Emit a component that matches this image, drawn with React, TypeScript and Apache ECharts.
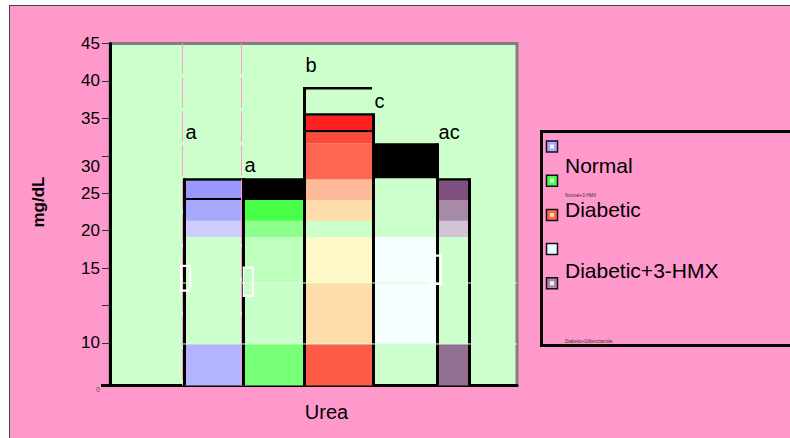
import React, { useEffect, useRef } from 'react';
import * as echarts from 'echarts';

// ---------- data ----------
const GROUPS = ['Normal', 'Normal+3-HMX', 'Diabetic', 'Diabetic+Glibenclamide', 'Diabetic+3-HMX'];
const X_AXIS_LABEL = 'Urea';
const Y_AXIS_NAME = 'mg/dL';

// y tick positions and the labels printed at them in the source figure
const Y_TICK_VALUES = [5, 10, 15, 20, 25, 30, 35, 40, 45];
const Y_TICK_LABELS = ['10', '', '15', '20', '25', '30', '35', '40', '45'];
const Y_ZERO_LABEL = '0';
const Y_MIN = -0.7;
const Y_MAX = 45;

// stacked band segments of each bar: [low, high]
const NORMAL_SEGMENTS = [[-0.7, 4.85], [19.15, 21.3], [21.3, 24.1], [24.1, 24.35], [24.35, 26.65], [26.65, 27.0]];
const NORMAL_HMX_SEGMENTS = [[-0.7, 4.85], [4.85, 13.0], [13.0, 19.15], [19.15, 21.3], [21.3, 24.1], [24.1, 27.0]];
const DIABETIC_SEGMENTS = [[-0.7, 4.85], [4.85, 13.0], [13.0, 19.15], [21.3, 24.1], [24.1, 26.85], [26.85, 31.67], [31.67, 33.14], [33.14, 33.44], [33.44, 35.35], [35.35, 35.67]];
const DIABETIC_GLIB_SEGMENTS = [[4.85, 19.15], [27.0, 31.67]];
const DIABETIC_HMX_SEGMENTS = [[-0.7, 4.85], [19.15, 21.3], [21.3, 24.1], [24.1, 26.65], [26.65, 27.0]];

const DIABETIC_BRACKET = 39.19;
const SIG_LETTERS = ['a', 'a', 'b', 'c', 'ac'];
const SIG_LEVELS = [33.16, 28.75, 42.1, 37.3, 33.16];

const ERROR_GROUPS = [0, 1, 4];
const ERROR_LOW = [11.98, 11.27, 12.87];
const ERROR_HIGH = [15.28, 15.05, 16.65];

const BAND_LINES = [4.85, 13.0];

// ---------- layout & style ----------
const SEGMENTS = [NORMAL_SEGMENTS, NORMAL_HMX_SEGMENTS, DIABETIC_SEGMENTS, DIABETIC_GLIB_SEGMENTS, DIABETIC_HMX_SEGMENTS];
const SEGMENT_COLORS = [
  ['#B3B3FF', '#CCCCFF', '#A8A8FF', '#000000', '#9999FF', '#000000'],
  ['#77FF77', '#C8FFC8', '#BEFFBE', '#8CFF8C', '#47FF47', '#000000'],
  ['#FF5A44', '#FFDDAA', '#FFF8C8', '#FFDDAA', '#FFBB99', '#FF6651', '#FF4A3A', '#000000', '#FF1F1F', '#000000'],
  ['#F5FFFF', '#000000'],
  ['#926E91', '#D2C4D6', '#A68AA6', '#7F507F', '#000000'],
];
// bar edges, in percent of the plot width
const EDGES = [18.3, 32.8, 47.79, 64.74, 80.47, 88.33];
const BEAM_DX = [1.2, 4.8, -1.2];
const PINK_EDGES = [0, 1];
const LEGEND_SWATCH = [
  ['#A8A8FF', '#F4F4FF'],
  ['#47FF47', '#CCFFCC'],
  ['#FF6651', '#FFE2A8'],
  ['#E6FFFF', '#FFFFFF'],
  ['#A68AA6', '#F2F2F2'],
];
const FONT = '"Liberation Sans", Arial, Helvetica, sans-serif';

const barTop = (g: number) => Math.max(...SEGMENTS[g].map((s) => s[1]));
const edgeTop = (e: number) => {
  const tops: number[] = [];
  if (e - 1 >= 0) tops.push(barTop(e - 1));
  if (e < GROUPS.length) tops.push(barTop(e));
  if (e === 2) tops.push(DIABETIC_BRACKET);
  return Math.max(...tops);
};

function buildOption(): any {
  const segmentSeries = SEGMENTS.map((segs, g) => ({
    type: 'custom',
    name: GROUPS[g],
    z: 2,
    data: segs.map(([lo, hi]) => [g, lo, hi]),
    renderItem: (params: any, api: any) => {
      const gi = api.value(0);
      const lo = api.value(1);
      const hi = api.value(2);
      const a = api.coord([EDGES[gi], hi]);
      const b = api.coord([EDGES[gi + 1], lo]);
      return {
        type: 'rect',
        shape: { x: a[0], y: a[1], width: b[0] - a[0], height: b[1] - a[1] },
        style: { fill: SEGMENT_COLORS[gi][params.dataIndex] },
      };
    },
  }));

  const borderSeries = {
    type: 'custom',
    z: 3,
    silent: true,
    data: EDGES.map((_, e) => [e, edgeTop(e)]),
    renderItem: (_p: any, api: any) => {
      const e = api.value(0);
      const top = api.coord([EDGES[e], api.value(1)]);
      const bot = api.coord([EDGES[e], Y_MIN]);
      const children: any[] = [
        { type: 'rect', shape: { x: top[0] - 1.5, y: top[1], width: 3, height: bot[1] - top[1] }, style: { fill: '#000' } },
      ];
      if (e === 2) {
        const r = api.coord([EDGES[3], DIABETIC_BRACKET]);
        children.push({ type: 'rect', shape: { x: top[0] - 1.5, y: top[1], width: r[0] - top[0], height: 2.5 }, style: { fill: '#000' } });
      }
      return { type: 'group', children };
    },
  };

  const bandLineSeries = {
    type: 'custom',
    z: 4,
    silent: true,
    data: BAND_LINES.map((v) => [v]),
    renderItem: (_p: any, api: any) => {
      const a = api.coord([EDGES[0], api.value(0)]);
      const b = api.coord([100, api.value(0)]);
      return {
        type: 'line',
        shape: { x1: a[0] - 2, y1: a[1], x2: b[0], y2: b[1] },
        style: { stroke: '#D9FFD9', lineWidth: 1 },
      };
    },
  };

  const pinkSeries = {
    type: 'custom',
    z: 4,
    silent: true,
    data: PINK_EDGES.map((e) => [e]),
    renderItem: (_p: any, api: any) => {
      const e = api.value(0);
      const a = api.coord([EDGES[e], Y_MAX]);
      const b = api.coord([EDGES[e], Y_MIN]);
      return {
        type: 'line',
        shape: { x1: a[0] - 2, y1: a[1], x2: b[0] - 2, y2: b[1] },
        style: { stroke: '#FF99CC', lineWidth: 1, lineDash: [30, 4] },
      };
    },
  };

  const errorSeries = {
    type: 'custom',
    z: 5,
    silent: true,
    data: ERROR_GROUPS.map((g, i) => [g, ERROR_LOW[i], ERROR_HIGH[i], i]),
    renderItem: (_p: any, api: any) => {
      const g = api.value(0);
      const i = api.value(3);
      const hi = api.coord([EDGES[g], api.value(2)]);
      const lo = api.coord([EDGES[g], api.value(1)]);
      const cx = hi[0] + BEAM_DX[i];
      return {
        type: 'rect',
        shape: { x: cx - 4.5, y: hi[1], width: 9, height: lo[1] - hi[1] },
        style: { fill: 'none', stroke: '#FFFFFF', lineWidth: 2.2 },
      };
    },
  };

  const letterSeries = {
    type: 'custom',
    z: 6,
    silent: true,
    data: SIG_LEVELS.map((lv, g) => [g, lv]),
    renderItem: (_p: any, api: any) => {
      const g = api.value(0);
      const p = api.coord([EDGES[g], api.value(1)]);
      return {
        type: 'text',
        x: p[0] + 1,
        y: p[1],
        style: {
          text: SIG_LETTERS[g],
          fill: '#000',
          font: '20px ' + FONT,
          align: 'left',
          verticalAlign: 'middle',
        },
      };
    },
  };

  // legend (drawn as in the source figure)
  const legendChildren: any[] = [
    { type: 'rect', shape: { x: 541.5, y: 131.5, width: 300, height: 214 }, style: { fill: 'none', stroke: '#000', lineWidth: 3 } },
  ];
  GROUPS.forEach((_, i) => {
    const y = 141 + i * 34.2;
    legendChildren.push({ type: 'rect', shape: { x: 546.5, y, width: 11, height: 11 }, style: { fill: LEGEND_SWATCH[i][0], stroke: '#111', lineWidth: 1.5 } });
    legendChildren.push({ type: 'rect', shape: { x: 550, y: y + 3.5, width: 4, height: 4 }, style: { fill: LEGEND_SWATCH[i][1] } });
  });
  const bigLabels = [
    { text: GROUPS[0], y: 165.7 },
    { text: GROUPS[2], y: 209.4 },
    { text: GROUPS[4], y: 270.7 },
  ];
  bigLabels.forEach((l) =>
    legendChildren.push({ type: 'text', x: 565, y: l.y, style: { text: l.text, fill: '#000', font: '21px ' + FONT, align: 'left', verticalAlign: 'middle' } })
  );
  const tinyLabels = [
    { text: GROUPS[1], y: 195 },
    { text: GROUPS[3], y: 341.5 },
  ];
  tinyLabels.forEach((l) =>
    legendChildren.push({ type: 'text', x: 565, y: l.y, style: { text: l.text, fill: '#333', font: '4.5px ' + FONT, align: 'left', verticalAlign: 'middle' } })
  );

  return {
    animation: false,
    textStyle: { fontFamily: FONT },
    grid: {
      left: 110,
      right: 273,
      top: 43.5,
      bottom: 52.5,
      show: true,
      backgroundColor: '#CCFFCC',
      borderColor: '#808080',
      borderWidth: 3,
      containLabel: false,
      outerBoundsMode: 'none',
    },
    xAxis: {
      type: 'value',
      min: 0,
      max: 100,
      axisLine: { show: true, onZero: false, lineStyle: { color: '#000', width: 3 } },
      axisTick: { show: false },
      axisLabel: { show: false },
      splitLine: { show: false },
      name: X_AXIS_LABEL,
      nameLocation: 'middle',
      nameGap: 16,
      nameTextStyle: { fontSize: 20, color: '#000', fontFamily: FONT, padding: [0, 0, 0, 26] },
    },
    yAxis: {
      type: 'value',
      min: Y_MIN,
      max: Y_MAX,
      axisLine: { show: true, onZero: false, lineStyle: { color: '#000', width: 3 } },
      axisTick: { show: true, length: 8, customValues: Y_TICK_VALUES, lineStyle: { color: '#333', width: 1 } },
      axisLabel: {
        show: true,
        customValues: [Y_MIN, ...Y_TICK_VALUES],
        margin: 10,
        fontSize: 17,
        color: '#000',
        fontFamily: FONT,
        formatter: (v: number) => {
          if (Math.abs(v - Y_MIN) < 1e-6) return '{zero|' + Y_ZERO_LABEL + '}';
          const i = Y_TICK_VALUES.findIndex((t) => Math.abs(t - v) < 1e-6);
          const s = i >= 0 ? Y_TICK_LABELS[i] : '';
          if (s === '30') return '{down|' + s + '}';
          return s;
        },
        rich: {
          zero: { fontSize: 7, color: '#555', fontFamily: FONT, padding: [7, 0, 0, 0] },
          down: { fontSize: 17, color: '#000', fontFamily: FONT, padding: [22, 0, 0, 0] },
        },
      },
      splitLine: { show: false },
    },
    graphic: [
      { type: 'rect', shape: { x: 101, y: 384, width: 9, height: 3 }, style: { fill: '#000' } },
      {
        type: 'text',
        x: 38,
        y: 202,
        rotation: Math.PI / 2,
        style: { text: Y_AXIS_NAME, fill: '#000', font: 'bold 17px ' + FONT, align: 'center', verticalAlign: 'middle' },
      },
      { type: 'group', children: legendChildren },
    ],
    series: [...segmentSeries, borderSeries, bandLineSeries, pinkSeries, errorSeries, letterSeries],
  };
}

export default function App() {
  const ref = useRef<HTMLDivElement>(null);
  useEffect(() => {
    document.body.style.margin = '0';
    const chart = echarts.init(ref.current as HTMLDivElement, null, { renderer: 'svg' });
    chart.setOption(buildOption());
    return () => chart.dispose();
  }, []);
  return (
    <div style={{ position: 'relative', width: 790, height: 438, background: '#fff', overflow: 'hidden' }}>
      <div
        style={{
          position: 'absolute',
          left: 9,
          top: 5,
          right: -2,
          bottom: -2,
          background: '#FF99CC',
          borderLeft: '1px solid #444',
          borderTop: '1px solid #444',
        }}
      />
      <div ref={ref} style={{ position: 'absolute', left: 0, top: 0, width: 790, height: 438 }} />
    </div>
  );
}
